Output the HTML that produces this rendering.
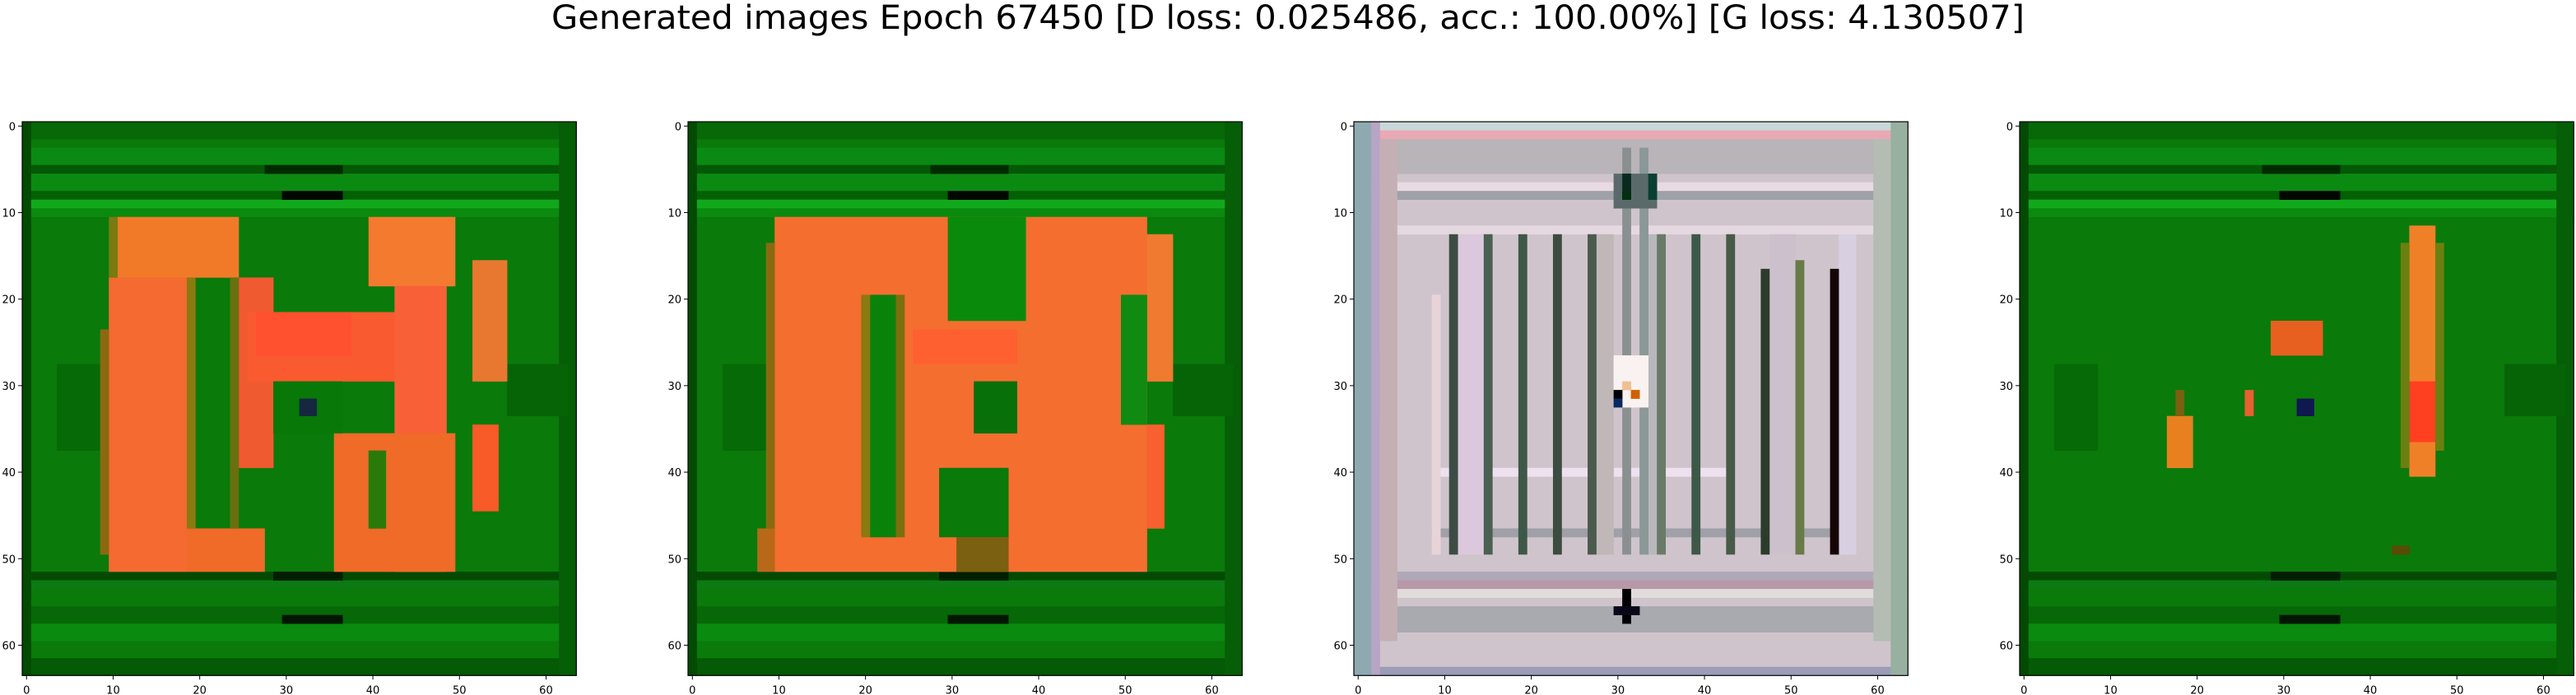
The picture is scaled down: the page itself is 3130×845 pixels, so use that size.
<!DOCTYPE html>
<html><head><meta charset="utf-8"><title>Generated images</title>
<style>
html,body{margin:0;padding:0;background:#fff;width:3130px;height:845px;overflow:hidden}
svg{display:block}
text{font-family:"DejaVu Sans","Liberation Sans",sans-serif}
</style></head>
<body>
<svg id="fig" width="3130" height="845" xmlns="http://www.w3.org/2000/svg">
<text x="1565" y="35" text-anchor="middle" font-size="40" textLength="1790" lengthAdjust="spacingAndGlyphs" fill="#000">Generated images Epoch 67450 [D loss: 0.025486, acc.: 100.00%] [G loss: 4.130507]</text>
</svg>
<script>
// ---- data (cell coords: [col0,row0,col1,row1,color]) ----
const panelLefts = [27, 836, 1645, 2454];
const tickValues = [0, 10, 20, 30, 40, 50, 60];
const greenBands = [
  [0,0,64,64,'#0a7a0a'],[0,0,64,2,'#066806'],[0,3,64,5,'#0a8a12'],[0,5,64,6,'#055805'],
  [0,6,64,8,'#0b8a12'],[0,8,64,9,'#046004'],[0,9,64,10,'#12a81c'],[0,10,64,11,'#0a8a0e'],
  [0,52,64,53,'#034a03'],[0,53,64,54,'#0c7a12'],[0,56,64,58,'#066806'],[0,58,64,60,'#0a8a0e'],
  [0,62,64,64,'#055a05'],[0,0,1,64,'#034a03'],[62,0,64,64,'#065e06'],
  [28,5,37,6,'#012a01'],[30,8,37,9,'#000800'],[29,52,37,53,'#011e01'],[30,57,37,58,'#011501'],
  [4,28,9,38,'#066a06'],[56,28,63,34,'#066406']
];
const orange1 = [
  [11,11,25,18,'#f07a28'],[10,18,19,52,'#f46a30'],[19,47,28,52,'#f06a28'],[25,18,29,40,'#f05a30'],
  [26,22,43,30,'#fa5a30'],[40,11,50,19,'#f47a30'],[43,19,49,52,'#f86038'],[36,36,50,52,'#f06a28'],
  [52,16,56,30,'#e87830'],[52,35,55,45,'#f85a28'],
  [40,38,42,47,'#2a7a0a'],[29,30,37,36,'#087808'],[32,32,34,34,'#152840'],[27,22,38,27,'#ff5030'],
  [10,11,11,18,'#7a7a10'],[9,24,10,50,'#8a6a10'],[19,18,20,47,'#8a7a10'],[24,18,25,47,'#6a7010']
];
const orange2 = [
  [10,11,53,52,'#f46e30'],[53,13,56,30,'#f07a30'],[53,35,55,47,'#f86030'],[8,47,10,52,'#b86818'],
  [30,11,39,23,'#0a8a0a'],[21,20,24,48,'#0a820a'],[33,30,38,36,'#087008'],[29,40,37,48,'#0a7a0a'],
  [50,20,53,35,'#118a12'],[31,48,37,52,'#7a6010'],[26,24,38,28,'#ff6030'],
  [9,14,10,47,'#8a6a10'],[20,20,21,48,'#8a7a10'],[24,20,25,48,'#7a7010']
];
const orange4 = [
  [45,12,48,41,'#f08028'],[45,30,48,37,'#ff4020'],[29,23,35,27,'#e86020'],
  [17,34,20,40,'#e88020'],[18,31,19,34,'#7a6010'],[26,31,27,34,'#e86030'],[32,32,34,34,'#101850'],
  [43,49,45,50,'#5a4a08'],[44,14,45,40,'#6a8010'],[48,14,49,38,'#6a8010']
];
const pale3 = [
  [0,0,64,64,'#d0c4cc'],[0,0,64,1,'#c8d8d8'],[0,1,64,2,'#eaa8b4'],[0,2,64,6,'#b8b4b8'],
  [0,7,64,8,'#e8dae0'],[0,8,64,9,'#9ea2a8'],[0,12,64,13,'#e6d8e0'],[10,40,43,41,'#eee0ee'],
  [9,47,55,48,'#a0a0a8'],[0,52,64,53,'#b0a8b8'],[0,53,64,54,'#b898a8'],[0,54,64,55,'#e0dcdc'],
  [0,56,64,59,'#a8aab0'],[0,63,64,64,'#9c9cb8'],[0,0,2,64,'#8eaab0'],[2,0,3,64,'#b8a4c4'],
  [62,0,64,64,'#98b0a0'],[3,27,4,34,'#705e70'],[9,20,10,50,'#e8d4d8'],
  [60,2,62,60,'#b4bcb4'],[3,2,5,60,'#c4b0b4'],[12,13,15,50,'#dcc8dc'],[28,13,30,50,'#c0b8b8'],
  [33,13,35,50,'#b8b8bc'],[48,13,51,50,'#ccc0cc'],[56,13,58,50,'#d8d0e0']
];
const lines3 = [
  [11,13,12,50,'#3c4c44'],[15,13,16,50,'#4a6050'],[19,13,20,50,'#3e5848'],[23,13,24,50,'#3c4c40'],
  [27,13,28,50,'#4a5a4c'],[35,13,36,50,'#6a7a68'],[39,13,40,50,'#3e5848'],[43,13,44,50,'#485a48'],
  [47,17,48,50,'#2c3c2c'],[51,16,52,50,'#687a48'],[55,17,56,50,'#150505'],
  [31,3,32,50,'#8a9090'],[33,3,34,50,'#8a9898'],
  [30,6,35,10,'#5a6a6a'],[31,6,32,9,'#0a2a20'],[34,6,35,9,'#0a4030'],
  [30,27,34,33,'#faf2f0'],[31,30,32,31,'#f0c090'],[30,31,31,32,'#000'],
  [32,31,33,32,'#d06000'],[30,32,31,33,'#082860'],[31,54,32,58,'#000'],[30,56,33,57,'#080818'],
  [31,8,32,9,'#003010']
];
const panels = [
  {name:'image-1', layers:[greenBands, orange1]},
  {name:'image-2', layers:[greenBands, orange2]},
  {name:'image-3', layers:[pale3, lines3]},
  {name:'image-4', layers:[greenBands, orange4]}
];
// ---- drawing ----
const NS = 'http://www.w3.org/2000/svg';
const svg = document.getElementById('fig');
const TOP = 148, CELL = 10.52, SIZE = 64 * CELL;
function mk(tag, attrs){const e=document.createElementNS(NS,tag);for(const k in attrs)e.setAttribute(k,attrs[k]);return e;}
panels.forEach((p, pi) => {
  const left = panelLefts[pi];
  const xs = c => left + c * CELL;
  const ys = r => TOP + r * CELL;
  const g = mk('g', {});
  
  
  svg.appendChild(g);
  p.layers.forEach(layer => layer.forEach(d => {
    const r = mk('rect', {x:xs(d[0]), y:ys(d[1]), width:(d[2]-d[0])*CELL+0.3, height:(d[3]-d[1])*CELL+0.3, fill:d[4]});
    
    
    g.appendChild(r);
  }));
  const frame = mk('rect', {x:left, y:TOP, width:SIZE, height:SIZE, fill:'none', stroke:'#000', 'stroke-width':1.2});
  
  
  g.appendChild(frame);
  tickValues.forEach(v => {
    const cx = xs(v + 0.5), cy = ys(v + 0.5);
    const tx = mk('line', {x1:cx, y1:TOP+SIZE, x2:cx, y2:TOP+SIZE+5, stroke:'#000', 'stroke-width':1});
    
    
    g.appendChild(tx);
    const lx = mk('text', {x:cx, y:TOP+SIZE+22, 'text-anchor':'middle', 'font-size':13});
    
    
    lx.textContent = v;
    g.appendChild(lx);
    const ty = mk('line', {x1:left-5, y1:cy, x2:left, y2:cy, stroke:'#000', 'stroke-width':1});
    
    
    g.appendChild(ty);
    const ly = mk('text', {x:left-8, y:cy+5, 'text-anchor':'end', 'font-size':13});
    
    
    ly.textContent = v;
    g.appendChild(ly);
  });
});
</script>
</body></html>
